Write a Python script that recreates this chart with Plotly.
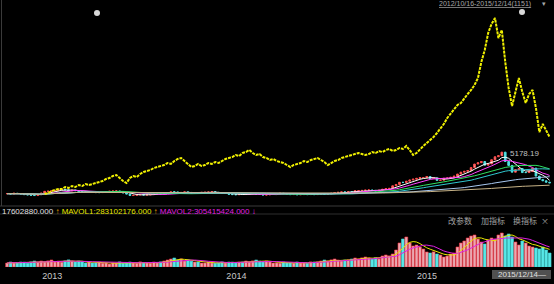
import pandas as pd
import plotly.graph_objects as go

# ---------------- data ----------------
# weekly bar index (shared x axis)
N_BARS = 160
IDX = list(range(N_BARS))

# Shanghai composite weekly close (main panel candles)
SSE_CLOSE = [
    2100, 2070, 2130, 2110, 2070, 2030, 2010, 1980, 1960, 2030, 2150,
    2270, 2280, 2300, 2320, 2390, 2430, 2380, 2310, 2360, 2320, 2240, 2230, 2200, 2240,
    2230, 2180, 2180, 2200, 2250, 2280, 2290, 2300, 2210, 2160, 2070, 1960, 1980,
    2010, 2040, 2000, 2010, 2030, 2070, 2080, 2060, 2100, 2120, 2240, 2230, 2160,
    2190, 2230, 2190, 2130, 2150, 2120, 2200, 2200, 2220, 2240, 2200, 2150, 2110, 2110,
    2050, 2030, 2020, 2050, 2040, 2060, 2100, 2110, 2070, 2050, 2000, 2010, 2040, 2050,
    2060, 2130, 2100, 2040, 2030, 2050, 2020, 2030, 2040, 2030, 2070, 2030, 2040,
    2060, 2050, 2080, 2130, 2180, 2200, 2230, 2210, 2240, 2230, 2320, 2330, 2340,
    2360, 2370, 2340, 2300, 2350, 2420, 2480, 2490, 2680, 2780, 2940, 2930, 3020, 3110, 3170, 3230,
    3290, 3290, 3370, 3210, 3260, 3080, 3100, 3240, 3250, 3310, 3400, 3550, 3690, 3750,
    3810, 4030, 4290, 4390, 4480, 4210, 4300, 4610, 4830, 4910, 5170,
    4480, 4190, 3690, 3880, 3960, 3660, 3660, 3740, 3990, 3400, 3150, 3050, 2950, 2900,
]

# overlay security (yellow line), starts at bar 11
YELLOW_START = 11
YELLOW = [
    2.2, 2.4, 2.8, 3.0, 3.2, 3.2, 3.6, 3.4, 3.8, 3.6,
    4.0, 3.8, 4.2, 4.0, 4.2, 4.4, 4.6, 4.8, 5.2, 5.4,
    5.8, 6.0, 5.4, 4.8, 4.4, 5.4, 5.8, 5.6, 6.2, 6.6,
    6.8, 7.0, 7.4, 7.6, 7.8, 8.0, 8.4, 8.2, 8.8, 9.2,
    9.4, 8.8, 8.2, 7.6, 7.8, 8.2, 7.8, 8.0, 8.4, 8.2,
    8.6, 8.4, 8.8, 9.2, 9.4, 9.6, 10.0, 9.8, 10.4, 10.6,
    11.0, 10.4, 10.0, 10.2, 9.6, 9.4, 9.0, 9.2, 8.8, 8.6,
    8.4, 8.0, 7.6, 8.0, 8.2, 8.4, 8.8, 8.6, 9.0, 9.2,
    9.4, 9.0, 8.6, 8.0, 8.4, 8.8, 9.0, 9.4, 9.6, 9.8,
    10.0, 10.2, 10.4, 10.2, 10.0, 10.2, 10.6, 10.4, 10.8, 10.6,
    11.0, 11.2, 10.8, 11.0, 11.4, 11.2, 11.8, 11.0, 10.0, 10.4,
    11.2, 11.8, 12.4, 13.0, 13.6, 14.4, 15.2, 16.2, 17.4, 18.2,
    19.2, 20.0, 20.4, 21.4, 22.2, 23.0, 24.0, 25.4, 28.6, 31.0,
    34.4, 36.2, 37.4, 33.4, 35.0, 28.6, 23.4, 19.8, 22.6, 25.4,
    22.6, 20.4, 22.2, 23.0, 19.4, 14.6, 16.2, 15.0, 13.6,
]

# volume (millions)
VOLUME = [
    72, 90, 72, 75, 90, 88, 70, 92, 108, 90,
    108, 92, 110, 126, 90, 105, 88, 110, 128, 106, 90, 108, 92, 72, 90,
    72, 74, 90, 70, 72, 54, 74, 72, 92, 70, 74, 90, 72, 70, 92, 72, 74, 70, 90, 74, 92, 108,
    126, 144, 162, 126, 146, 108, 128, 106, 90,
    90, 72, 74, 90, 72, 70, 74, 92, 72, 90, 88, 72, 90,
    90, 108, 92, 110, 126, 106, 90, 108, 92, 72, 74, 70, 90,
    72, 74, 70, 90, 72, 74, 70, 92, 90,
    92, 108, 126, 110, 128, 144, 126, 108, 126, 128,
    144, 162, 146, 164, 180, 162, 144, 166, 146,
    198, 216, 200, 234,
    306, 432, 504, 540,
    432, 378, 396, 360, 324,
    270, 252, 272, 234, 216,
    180, 198, 234, 252,
    360, 432, 468, 522, 558,
    576, 504, 450, 414,
    486, 522, 504,
    576, 612, 558, 594, 540,
    450, 396, 468, 432, 378,
    360, 342, 324, 360, 306,
    252,
]

MA_PERIODS = [5, 10, 20, 30, 60, 120]
MA_COLORS = ["#ffffff", "#ff40ff", "#30e060", "#30c8d0", "#a8c8f0", "#c8b488"]
MAVOL_PERIODS = [5, 10]
MAVOL_COLORS = ["#e8e800", "#e020e0"]

YEAR_TICKS = [13.2, 67.2, 123.1]
YEAR_LABELS = ["2013", "2014", "2015"]
PEAK_INDEX = 145
PEAK_LABEL = "5178.19"
CURSOR_DATE = "2015/12/14—"
RANGE_TEXT = "2012/10/16-2015/12/14(1151)"
VOL_LEGEND = ("17602880.000 <span style='color:#e8a000'>↑</span> "
              "<span style='color:#e8e800'>MAVOL1:283102176.000</span> "
              "<span style='color:#e8a000'>↑</span> "
              "<span style='color:#e020e0'>MAVOL2:305415424.000 ↓</span>")
BUTTONS = ["改参数", "加指标", "换指标", "×"]

# ---------------- figure ----------------
W, H = 554, 284
close = pd.Series(SSE_CLOSE, dtype=float)
opn = close.shift(1).fillna(close.iloc[0])
high = pd.concat([opn, close], axis=1).max(axis=1)
low = pd.concat([opn, close], axis=1).min(axis=1)
up = (close >= opn).tolist()

fig = go.Figure()

fig.add_trace(go.Candlestick(
    x=IDX, open=opn, high=high, low=low, close=close,
    increasing=dict(line=dict(color="#ff4a4a", width=1), fillcolor="#f0b8b8"),
    decreasing=dict(line=dict(color="#50e0e0", width=1), fillcolor="#50e0e0"),
    whiskerwidth=0, xaxis="x", yaxis="y", showlegend=False, hoverinfo="skip"))

for p, c in zip(MA_PERIODS, MA_COLORS):
    fig.add_trace(go.Scatter(x=IDX, y=close.rolling(p, min_periods=1).mean(),
                             mode="lines", line=dict(color=c, width=1),
                             xaxis="x", yaxis="y", showlegend=False, hoverinfo="skip"))

fig.add_trace(go.Scatter(x=list(range(YELLOW_START, YELLOW_START + len(YELLOW))), y=YELLOW,
                         mode="lines", line=dict(color="#f0f000", width=2, dash="3px,1px"),
                         xaxis="x", yaxis="y2", showlegend=False, hoverinfo="skip"))

vol = pd.Series(VOLUME, dtype=float)
fig.add_trace(go.Bar(x=IDX, y=VOLUME,
                     marker=dict(color=["#e8a8b0" if u else "#58e8e8" for u in up],
                                 line=dict(color=["#ff3040" if u else "#40d0d0" for u in up], width=0.6)),
                     xaxis="x", yaxis="y3", showlegend=False, hoverinfo="skip"))
for p, c in zip(MAVOL_PERIODS, MAVOL_COLORS):
    fig.add_trace(go.Scatter(x=IDX, y=vol.rolling(p, min_periods=1).mean(),
                             mode="lines", line=dict(color=c, width=1),
                             xaxis="x", yaxis="y3", showlegend=False, hoverinfo="skip"))


def py(px):
    return 1 - px / H


def pxx(px):
    return px / W


hidden = dict(showgrid=False, zeroline=False, showticklabels=False, showline=False, ticks="")

fig.update_layout(
    width=W, height=H, margin=dict(l=0, r=0, t=0, b=0),
    paper_bgcolor="#000000", plot_bgcolor="#000000",
    bargap=0.15,
    xaxis=dict(domain=[pxx(2), pxx(553)], range=[-1.5, N_BARS], anchor="y3",
               showgrid=False, zeroline=False, showline=False, ticks="",
               tickvals=YEAR_TICKS, ticktext=YEAR_LABELS, ticklabelstandoff=2,
               tickfont=dict(family="Liberation Sans", size=9, color="#c8c8c8"),
               rangeslider=dict(visible=False)),
    yaxis=dict(domain=[py(206), 1], range=[1186, 16430], **hidden),
    yaxis2=dict(overlaying="y", range=[-0.2, 41], **hidden),
    yaxis3=dict(domain=[py(267), py(226)], range=[0, 738], **hidden),
    font=dict(family="Liberation Sans"),
)

shapes = [
    dict(type="line", xref="paper", yref="paper", x0=0, x1=1, y0=py(206), y1=py(206),
         line=dict(color="#3a3a3a", width=1)),
    dict(type="line", xref="paper", yref="paper", x0=0, x1=1, y0=py(214), y1=py(214),
         line=dict(color="#2e2e2e", width=1)),
    dict(type="line", xref="paper", yref="paper", x0=pxx(1.5), x1=pxx(1.5), y0=py(206), y1=1,
         line=dict(color="#3a3a3a", width=1)),
    dict(type="circle", xref="paper", yref="paper", x0=pxx(94), x1=pxx(100), y0=py(16), y1=py(10),
         fillcolor="#d8d8d8", line=dict(width=0)),
    dict(type="circle", xref="paper", yref="paper", x0=pxx(519), x1=pxx(525), y0=py(15), y1=py(9),
         fillcolor="#d8d8d8", line=dict(width=0)),
    dict(type="rect", xref="paper", yref="paper", x0=pxx(492), x1=pxx(551), y0=py(279), y1=py(270),
         fillcolor="#505050", line=dict(width=0)),
]
fig.update_layout(shapes=shapes)

ann = [
    dict(x=PEAK_INDEX, y=close.iloc[PEAK_INDEX], xref="x", yref="y", text=PEAK_LABEL,
         showarrow=False, xanchor="left", xshift=6, yshift=-1,
         font=dict(size=8, color="#c0c0c0")),
    dict(x=0, y=py(211), xref="paper", yref="paper", text=VOL_LEGEND, showarrow=False,
         xanchor="left", yanchor="middle", font=dict(size=8, color="#e0e0e0")),
    dict(x=pxx(437), y=py(4), xref="paper", yref="paper", text="<u>" + RANGE_TEXT + "</u>",
         showarrow=False, xanchor="left", yanchor="middle", font=dict(size=7, color="#a8a8a8")),
    dict(x=pxx(544), y=py(4), xref="paper", yref="paper", text="▾", showarrow=False,
         xanchor="center", yanchor="middle", font=dict(size=7, color="#a8a8a8")),
    dict(x=pxx(521.5), y=py(274.5), xref="paper", yref="paper", text=CURSOR_DATE, showarrow=False,
         xanchor="center", yanchor="middle", font=dict(size=8, color="#e0e0e0")),
]
for t, cx in zip(BUTTONS, [460, 493, 525, 545]):
    ann.append(dict(x=pxx(cx), y=py(220), xref="paper", yref="paper", text=t, showarrow=False,
                    xanchor="center", yanchor="middle",
                    font=dict(family="Noto Sans CJK SC", size=8, color="#a0a0a0")))
fig.update_layout(annotations=ann)

fig.write_html("out.html")
